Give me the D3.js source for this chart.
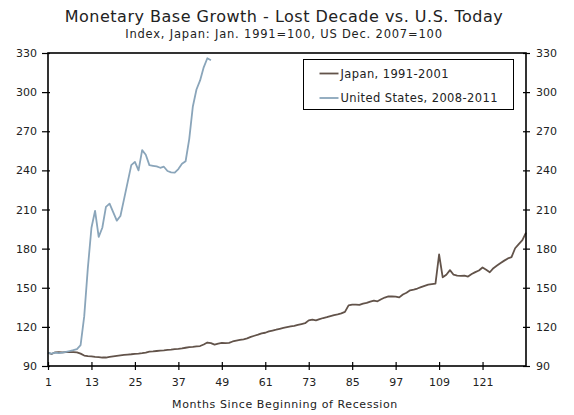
<!DOCTYPE html>
<html>
<head>
<meta charset="utf-8">
<script src="https://cdn.jsdelivr.net/npm/d3@7"></script>
<style>
  html, body { margin: 0; padding: 0; background: #fff; overflow: hidden; }
  svg { display: block; }
  text { font-family: "DejaVu Sans", sans-serif; fill: #222; }
</style>
</head>
<body>
<script>
// Data. Index values by month since start of recession.
var japanValues = [
  100, 99.2, 100.5, 100.6, 100.5, 100.7, 100.7, 100.6, 100.5, 99.5,
  98, 97.6, 97.4, 97, 96.8, 96.5, 96.5, 97, 97.4, 97.8,
  98.2, 98.5, 98.8, 99, 99.3, 99.5, 99.8, 100.2, 101, 101.2,
  101.5, 101.8, 102, 102.3, 102.6, 103, 103.2, 103.5, 104, 104.4,
  104.6, 105, 105.3, 106.5, 108, 107.5, 106.4, 107.2, 107.7, 107.6,
  107.8, 108.8, 109.4, 110, 110.5, 111.2, 112.3, 113.2, 114, 115,
  115.5, 116.5, 117.2, 117.8, 118.5, 119.2, 119.8, 120.3, 120.8, 121.5,
  122.2, 122.8, 125, 125.5, 125, 126, 126.8, 127.4, 128.3, 129,
  129.6, 130.4, 131.5, 136.5, 137, 137, 136.8, 137.8, 138.4, 139.4,
  140.2, 139.6, 141.2, 142.5, 143.3, 143.3, 143.2, 142.6, 144.8, 146.2,
  148, 148.6, 149.4, 150.5, 151.5, 152.4, 152.8, 153.2, 175.5, 158,
  160, 163.5, 160, 159.3, 159.1, 159.3, 158.6, 160.5, 162, 163.2,
  165.5, 163.8, 161.9, 165, 167, 169, 170.8, 172.5, 173.5, 180.3,
  183.5, 186.5, 192.2
];
var usValues = [
  100, 99.5, 100.2, 99.8, 100.3, 100.8, 101.5, 102.2, 103, 106,
  128, 165, 196, 209, 189, 196, 212, 214.5, 208, 201.5,
  205, 218, 231, 244, 246.5, 240, 255.5, 252, 244, 243.5,
  243, 242, 242.8, 239.5, 238.5, 238.3, 241, 245, 247, 264,
  289, 302, 309, 319, 326, 324.5
];
var seriesNames = ["Japan, 1991-2001", "United States, 2008-2011"],
  seriesColors = ["#62534a", "#8aa5ba"];
var xTickValues = [1, 13, 25, 37, 49, 61, 73, 85, 97, 109, 121],
  yTickValues = [90, 120, 150, 180, 210, 240, 270, 300, 330];

// Layout.
var width = 574,
  height = 415,
  margin = {top: 53, right: 48, bottom: 49, left: 48},
  innerWidth = width - margin.left - margin.right,
  innerHeight = height - margin.top - margin.bottom;

var svg = d3.select("body").append("svg")
    .attr("width", width)
    .attr("height", height),
  g = svg.append("g")
    .attr("transform", "translate(" + margin.left + "," + margin.top + ")");

var x = d3.scaleLinear().domain([1, 133]).range([0, innerWidth]),
  y = d3.scaleLinear().domain([90, 330]).range([innerHeight, 0]);

// Titles.
svg.append("text")
    .attr("x", 284).attr("y", 22)
    .attr("text-anchor", "middle")
    .style("font-size", "16px")
    .style("letter-spacing", "0.5px")
    .text("Monetary Base Growth - Lost Decade vs. U.S. Today");
svg.append("text")
    .attr("x", 284).attr("y", 38)
    .attr("text-anchor", "middle")
    .style("font-size", "11.5px")
    .style("letter-spacing", "0.8px")
    .text("Index, Japan: Jan. 1991=100, US Dec. 2007=100");

// Lines.
var line = d3.line()
  .x(function(d, i) { return x(i + 1); })
  .y(function(d) { return y(d); });

[japanValues, usValues].forEach(function(values, k) {
  g.append("path")
      .datum(values)
      .attr("d", line)
      .attr("fill", "none")
      .attr("stroke", seriesColors[k])
      .attr("stroke-width", 1.8)
      .attr("stroke-linejoin", "round");
});

// Axes.
function styleAxis(sel) {
  sel.attr("font-family", null).attr("font-size", null);
  sel.select(".domain").remove();
  sel.selectAll(".tick line").attr("stroke", "#000").attr("stroke-width", 1.2);
  sel.selectAll(".tick text").style("font-size", "11px").attr("fill", "#222");
}

g.append("g")
    .attr("transform", "translate(0," + innerHeight + ")")
    .call(d3.axisBottom(x).tickValues(xTickValues).tickSize(4))
    .call(styleAxis)
    .call(function(s) {
      s.selectAll(".tick line").attr("y1", -4);
      s.selectAll(".tick text").attr("dy", "1.15em");
    });

g.append("g")
    .call(d3.axisLeft(y).tickValues(yTickValues).tickSize(5).tickPadding(6))
    .call(styleAxis)
    .call(function(s) { s.selectAll(".tick line").attr("x2", 2).attr("x1", -6); });

g.append("g")
    .attr("transform", "translate(" + innerWidth + ",0)")
    .call(d3.axisRight(y).tickValues(yTickValues).tickSize(4).tickPadding(6))
    .call(styleAxis)
    .call(function(s) { s.selectAll(".tick line").attr("x1", -3); });

// Frame: left, right, bottom and top rules.
g.append("rect")
    .attr("width", innerWidth)
    .attr("height", innerHeight)
    .attr("fill", "none")
    .attr("stroke", "#000")
    .attr("stroke-width", 1.6);

// Axis title.
svg.append("text")
    .attr("x", 285).attr("y", 408)
    .attr("text-anchor", "middle")
    .style("font-size", "11px")
    .style("letter-spacing", "0.6px")
    .text("Months Since Beginning of Recession");

// Legend.
var legend = svg.append("g").attr("transform", "translate(303.5,59.5)");
legend.append("rect")
    .attr("width", 210)
    .attr("height", 50)
    .attr("fill", "#fff")
    .attr("stroke", "#000")
    .attr("stroke-width", 1);
seriesNames.forEach(function(name, k) {
  var row = legend.append("g").attr("transform", "translate(0," + (14 + k * 24.5) + ")");
  row.append("line")
      .attr("x1", 16).attr("x2", 35)
      .attr("stroke", seriesColors[k])
      .attr("stroke-width", 1.8);
  row.append("text")
      .attr("x", 37).attr("dy", "0.35em")
      .style("font-size", "11.5px")
      .style("letter-spacing", "0.4px")
      .text(name);
});
</script>
</body>
</html>
